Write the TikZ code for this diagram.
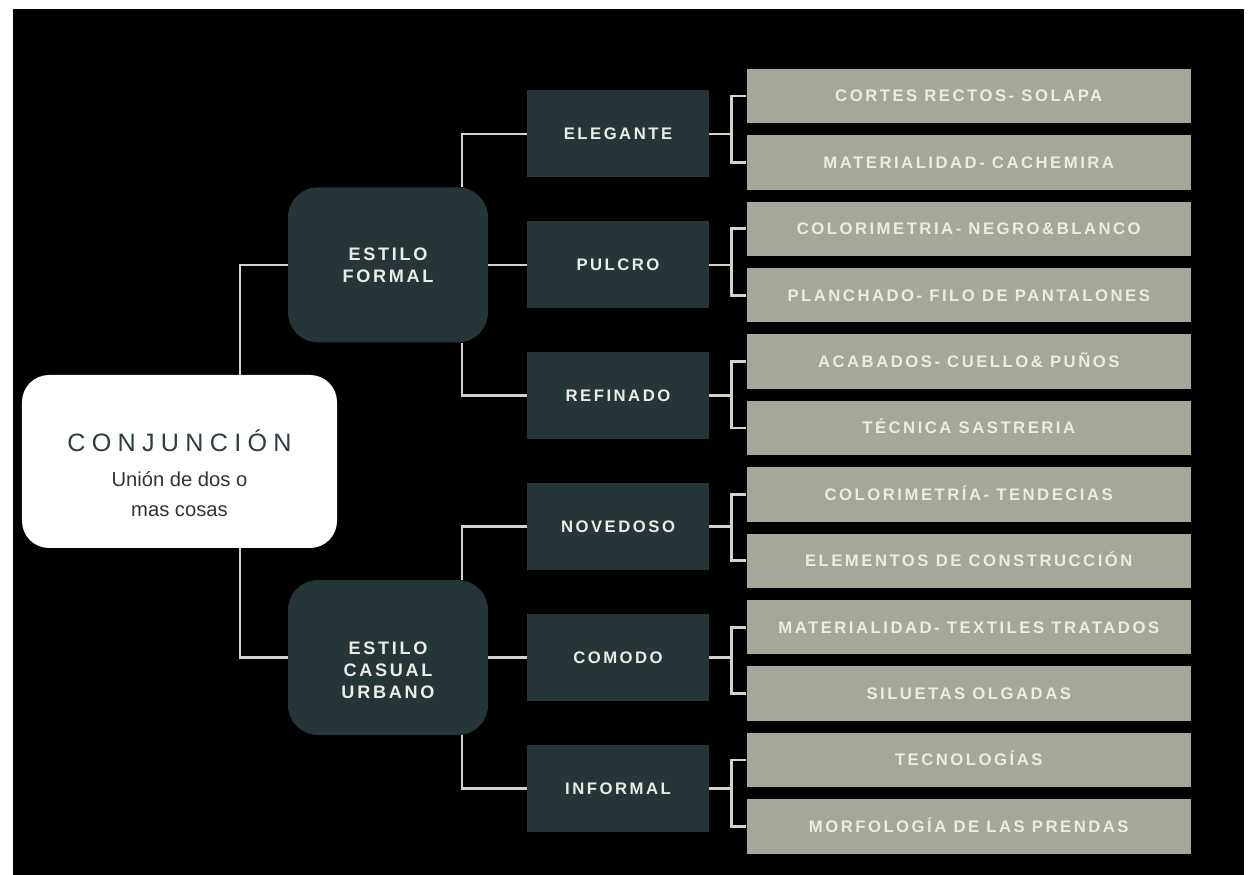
\documentclass[tikz,border=0pt]{standalone}
\usepackage{fontspec}
\setmainfont{Liberation Sans}
\newfontfamily\spaced[LetterSpace=15]{Liberation Sans}
\newfontfamily\wide[LetterSpace=25]{Liberation Sans}
\usepackage{tikz}
\usetikzlibrary{shapes,arrows,positioning}
\definecolor{petrol}{HTML}{263638}
\definecolor{khaki}{HTML}{A6A799}
\definecolor{lineas}{HTML}{D2D2CA}
\definecolor{claro}{HTML}{ECECE6}
\definecolor{titulo}{HTML}{2D3E41}
\definecolor{subtit}{HTML}{333333}
\tikzstyle{mainbox} = [rectangle, fill=white, rounded corners=0.54cm,
    minimum width=6.3cm, minimum height=3.46cm, align=center, text=subtit,
    font=\fontsize{11.5}{17}\selectfont]
\tikzstyle{estilo} = [rectangle, fill=petrol, rounded corners=0.6cm,
    minimum width=4cm, minimum height=3.1cm, align=center, text=claro,
    font=\spaced\bfseries\fontsize{10.3}{12.5}\selectfont]
\tikzstyle{block} = [rectangle, fill=petrol, minimum width=3.64cm,
    minimum height=1.74cm, text=claro, text height=6.8pt, text depth=0pt,
    font=\spaced\bfseries\fontsize{9.5}{11}\selectfont]
\tikzstyle{leaf} = [rectangle, fill=khaki, minimum width=8.89cm,
    minimum height=1.09cm, text=claro, text height=6.8pt, text depth=0pt,
    font=\spaced\bfseries\fontsize{9.5}{11}\selectfont]
\tikzstyle{line} = [draw, lineas, line width=1.5pt]

\begin{document}
\begin{tikzpicture}[node distance = 1.328cm]
        % Frame
        \useasboundingbox (0,0) rectangle (25.1,-17.5);
        \fill [white] (0,0) rectangle (25.1,-17.5);
        \fill [black] (0.26,-0.18) rectangle (24.88,-17.5);
        % Place nodes
        \node [block] at (12.36,-2.68) (eleg) {ELEGANTE};
        \node [block, below of=eleg, node distance=2.618cm] (pulcro) {PULCRO};
        \node [block, below of=pulcro, node distance=2.618cm] (refin) {REFINADO};
        \node [block, below of=refin, node distance=2.618cm] (noved) {NOVEDOSO};
        \node [block, below of=noved, node distance=2.618cm] (comodo) {COMODO};
        \node [block, below of=comodo, node distance=2.618cm] (inform) {INFORMAL};
        \node [estilo, left of=pulcro, node distance=4.6cm] (formal) {ESTILO\\FORMAL};
        \node [estilo, left of=comodo, node distance=4.6cm] (casual) {\rule{0pt}{22pt}ESTILO\\CASUAL\\URBANO};
        \node [mainbox] at (3.59,-9.23) (conj) {{\wide\fontsize{14.3}{17}\selectfont\color{titulo}\rule{0pt}{26pt}CONJUNCIÓN}\\[3pt]Unión de dos o\\mas cosas};
        \node [leaf] at (19.375,-1.92) (cortes) {CORTES RECTOS- SOLAPA};
        \node [leaf, below of=cortes] (material) {MATERIALIDAD- CACHEMIRA};
        \node [leaf, below of=material] (color) {COLORIMETRIA- NEGRO\&BLANCO};
        \node [leaf, below of=color] (planch) {PLANCHADO- FILO DE PANTALONES};
        \node [leaf, below of=planch] (acab) {ACABADOS- CUELLO\& PUÑOS};
        \node [leaf, below of=acab] (tecnica) {TÉCNICA SASTRERIA};
        \node [leaf, below of=tecnica] (tendec) {COLORIMETRÍA- TENDECIAS};
        \node [leaf, below of=tendec] (constr) {ELEMENTOS DE CONSTRUCCIÓN};
        \node [leaf, below of=constr] (textil) {MATERIALIDAD- TEXTILES TRATADOS};
        \node [leaf, below of=textil] (silueta) {SILUETAS OLGADAS};
        \node [leaf, below of=silueta] (tecno) {TECNOLOGÍAS};
        \node [leaf, below of=tecno] (morfo) {MORFOLOGÍA DE LAS PRENDAS};
        % Draw edges
        \path [line] ([xshift=1.21cm]conj.north) |- (formal.west);
        \path [line] ([xshift=1.21cm]conj.south) |- (casual.west);
        \path [line] ([xshift=1.48cm]formal.north) |- (eleg.west);
        \path [line] (formal.east) -- (pulcro.west);
        \path [line] ([xshift=1.48cm]formal.south) |- (refin.west);
        \path [line] ([xshift=1.48cm]casual.north) |- (noved.west);
        \path [line] (casual.east) -- (comodo.west);
        \path [line] ([xshift=1.48cm]casual.south) |- (inform.west);
        \path [line] (eleg.east) -- +(0.44,0) |- (cortes.west);
        \path [line] (eleg.east) -- +(0.44,0) |- (material.west);
        \path [line] (pulcro.east) -- +(0.44,0) |- (color.west);
        \path [line] (pulcro.east) -- +(0.44,0) |- (planch.west);
        \path [line] (refin.east) -- +(0.44,0) |- (acab.west);
        \path [line] (refin.east) -- +(0.44,0) |- (tecnica.west);
        \path [line] (noved.east) -- +(0.44,0) |- (tendec.west);
        \path [line] (noved.east) -- +(0.44,0) |- (constr.west);
        \path [line] (comodo.east) -- +(0.44,0) |- (textil.west);
        \path [line] (comodo.east) -- +(0.44,0) |- (silueta.west);
        \path [line] (inform.east) -- +(0.44,0) |- (tecno.west);
        \path [line] (inform.east) -- +(0.44,0) |- (morfo.west);
\end{tikzpicture}
\end{document}
